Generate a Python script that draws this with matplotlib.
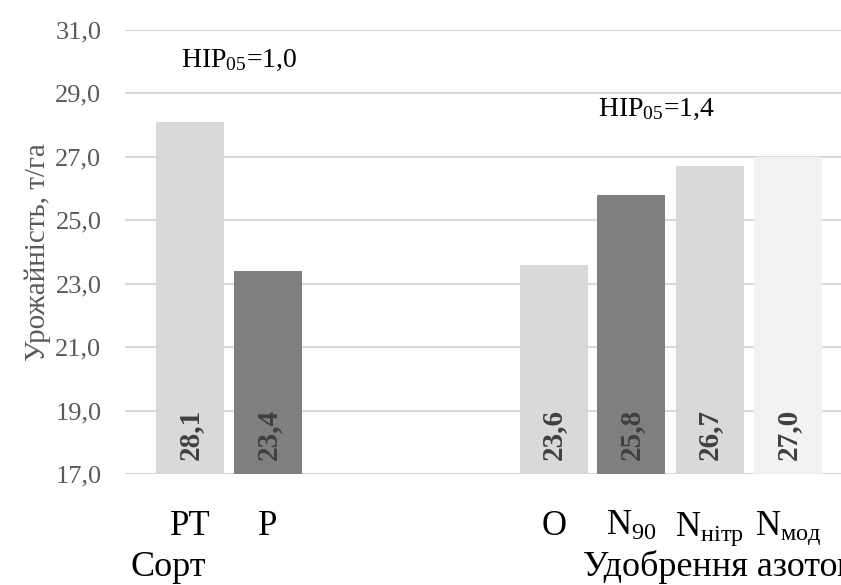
import matplotlib.pyplot as plt
import matplotlib as mpl

mpl.rcParams['font.family'] = ['Liberation Serif', 'DejaVu Serif']
mpl.rcParams['mathtext.fontset'] = 'custom'
mpl.rcParams['mathtext.rm'] = 'Liberation Serif'

# data
labels = ['PT', 'P', 'O', r'N$\mathregular{_{90}}$', r'N$\mathregular{_{нітр}}$', r'N$\mathregular{_{мод}}$']
values = [28.1, 23.4, 23.6, 25.8, 26.7, 27.0]
positions = [0, 1, 4.68, 5.68, 6.69, 7.70]
colors = ['#d9d9d9', '#7f7f7f', '#d9d9d9', '#7f7f7f', '#d9d9d9', '#f2f2f2']
group_names = ['Сорт', 'Удобрення азотом']
lsd_texts = [r'HIP$\mathregular{_{05}}$=1,0', r'HIP$\mathregular{_{05}}$=1,4']

fig = plt.figure(figsize=(8.41, 5.85), dpi=100)
ax = fig.add_axes([125/841, (585-474)/585, 1-125/841, 444/585])

ax.bar(positions, values, width=0.875, color=colors, zorder=2)
ax.set_ylim(17, 31)
ax.set_xlim(-0.84, 8.38)
ax.set_yticks([17, 19, 21, 23, 25, 27, 29, 31])
ax.set_yticklabels([('%.1f' % t).replace('.', ',') for t in ax.get_yticks()])
ax.yaxis.grid(True, color='#d9d9d9', lw=1.5, zorder=0)
ax.set_axisbelow(True)
for s in ax.spines.values():
    s.set_visible(False)
ax.tick_params(axis='y', length=0, pad=17, labelsize=19, labelcolor='#595959')
ax.tick_params(axis='x', length=0, pad=26, labelsize=25)
ax.set_xticks(positions)
ax.set_xticklabels(labels)

ax.set_ylabel('Урожайність, т/га', fontsize=21, color='#595959', labelpad=3)

for x, v in zip(positions, values):
    ax.text(x, 17.45, ('%.1f' % v).replace('.', ','), rotation=90, ha='center', va='bottom',
            fontsize=21, fontweight='bold', color='#404040', zorder=3)

ax.text(-0.12, 30.05, lsd_texts[0], fontsize=20, va='center', ha='left')
ax.text(5.25, 28.5, lsd_texts[1], fontsize=20, va='center', ha='left')

fig.text(168/841, 1-567/585, group_names[0], fontsize=26, ha='center', va='center')
fig.text(583/841, 1-567/585, group_names[1], fontsize=26, ha='left', va='center')

fig.savefig('out.png', dpi=100)
